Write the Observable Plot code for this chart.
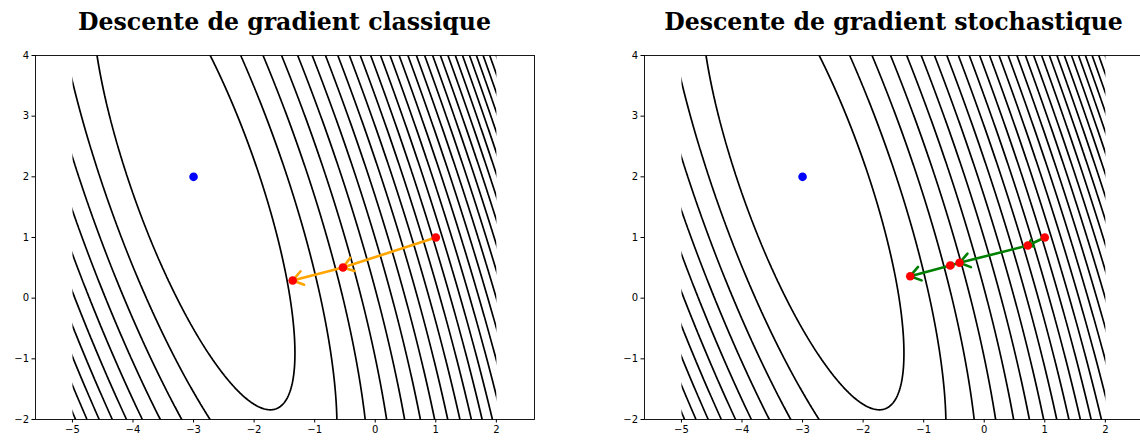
<!DOCTYPE html>
<html><head><meta charset="utf-8">
<script src="https://cdn.jsdelivr.net/npm/d3@7"></script>
<script src="https://cdn.jsdelivr.net/npm/@observablehq/plot@0.6"></script>
<style>
body{margin:0;background:#fff;width:1140px;height:441px;overflow:hidden;position:relative}
.panel{position:absolute;top:0;width:570px;height:441px}
.panel svg{position:absolute;left:0;top:0}
.title{position:absolute;top:8px;left:35px;width:499px;text-align:center;font-family:"DejaVu Serif";font-weight:bold;font-size:23.6px;line-height:29px;white-space:nowrap;color:#000}
</style>
</head><body>
<div class="panel" id="p1" style="left:0"><div class="title">Descente de gradient classique</div></div>
<div class="panel" id="p2" style="left:609px"><div class="title">Descente de gradient stochastique</div></div>
<script>
// ---- data ----
const xTicks = [-5, -4, -3, -2, -1, 0, 1, 2];
const yTicks = [-2, -1, 0, 1, 2, 3, 4];
// quadratic loss: a(x-cx)^2 + b(x-cx)(y-cy) + c(y-cy)^2
const lossCenter = [-3, 2];
const lossCoef = [0.835, 0.551, 0.1587];
const gridX = [-5, 2];
const gridY = [-2, 4];
const levels = [1,2,3,4,5,6,7,8,9,10,11,12,13,14,15,16,17,18,19,20,21,22,23,24,25,26,27,28,29,30,31,32,33,34,35,36,37,38,39,40];
const optimum = [{x: -3, y: 2}];
const gdX = [1.0, -0.533, -1.363];
const gdY = [1.0, 0.506, 0.291];
const sgdX = [1.0, 0.719, -0.408, -0.562, -1.222];
const sgdY = [1.0, 0.868, 0.583, 0.539, 0.362];

// ---- chart ----
const loss = (x, y) => {
  const dx = x - lossCenter[0], dy = y - lossCenter[1];
  return lossCoef[0]*dx*dx + lossCoef[1]*dx*dy + lossCoef[2]*dy*dy;
};
const fmt = d => (d < 0 ? "\u2212" + Math.abs(d) : String(d));
const ns = "http://www.w3.org/2000/svg";

function panel(px, py, color, id) {
  const pts = px.map((x, i) => ({x, y: py[i]}));
  const segs = d3.pairs(pts).map(([a, b]) => ({x1: a.x, y1: a.y, x2: b.x, y2: b.y}));
  const fig = Plot.plot({
    width: 570, height: 441,
    marginTop: 55, marginBottom: 22, marginLeft: 35, marginRight: 36,
    x: {domain: [-5.61, 2.63]},
    y: {domain: [-2, 4]},
    style: {fontFamily: "DejaVu Sans", fontSize: "10px", color: "#000", background: "transparent"},
    marks: [
      // sampled over a larger box, then clipped to the grid box below
      Plot.contour({value: loss, x1: gridX[0] - 1, x2: gridX[1] + 1, y1: gridY[0] - 1, y2: gridY[1] + 1,
        thresholds: levels, stroke: "#000", strokeWidth: 1.7, fill: "none"}),
      Plot.dot(optimum, {x: "x", y: "y", r: 4.3, fill: "#0000ff"}),
      Plot.arrow(segs, {x1: "x1", y1: "y1", x2: "x2", y2: "y2", stroke: color, strokeWidth: 2.6, headLength: 7, headAngle: 70}),
      Plot.dot(pts, {x: "x", y: "y", r: 4.3, fill: "#ff0000"}),
      Plot.frame({stroke: "#000", strokeWidth: 0.9}),
      Plot.axisX({ticks: xTicks, tickSize: 3.5, tickPadding: 3, tickFormat: fmt, label: null}),
      Plot.axisY({ticks: yTicks, tickSize: 3.5, tickPadding: 3, tickFormat: fmt, label: null})
    ]
  });
  const sx = fig.scale("x"), sy = fig.scale("y");
  const defs = document.createElementNS(ns, "defs");
  const cp = document.createElementNS(ns, "clipPath");
  cp.setAttribute("id", id);
  const r = document.createElementNS(ns, "rect");
  const xa = sx.apply(gridX[0]), xb = sx.apply(gridX[1]), ya = sy.apply(gridY[1]), yb = sy.apply(gridY[0]);
  r.setAttribute("x", xa); r.setAttribute("y", ya);
  r.setAttribute("width", xb - xa); r.setAttribute("height", yb - ya);
  cp.appendChild(r); defs.appendChild(cp); fig.insertBefore(defs, fig.firstChild);
  const g = fig.querySelector('[aria-label="contour"]');
  if (g) g.setAttribute("clip-path", `url(#${id})`);
  return fig;
}
document.getElementById("p1").appendChild(panel(gdX, gdY, "orange", "clipA"));
document.getElementById("p2").appendChild(panel(sgdX, sgdY, "green", "clipB"));
</script>
</body></html>
